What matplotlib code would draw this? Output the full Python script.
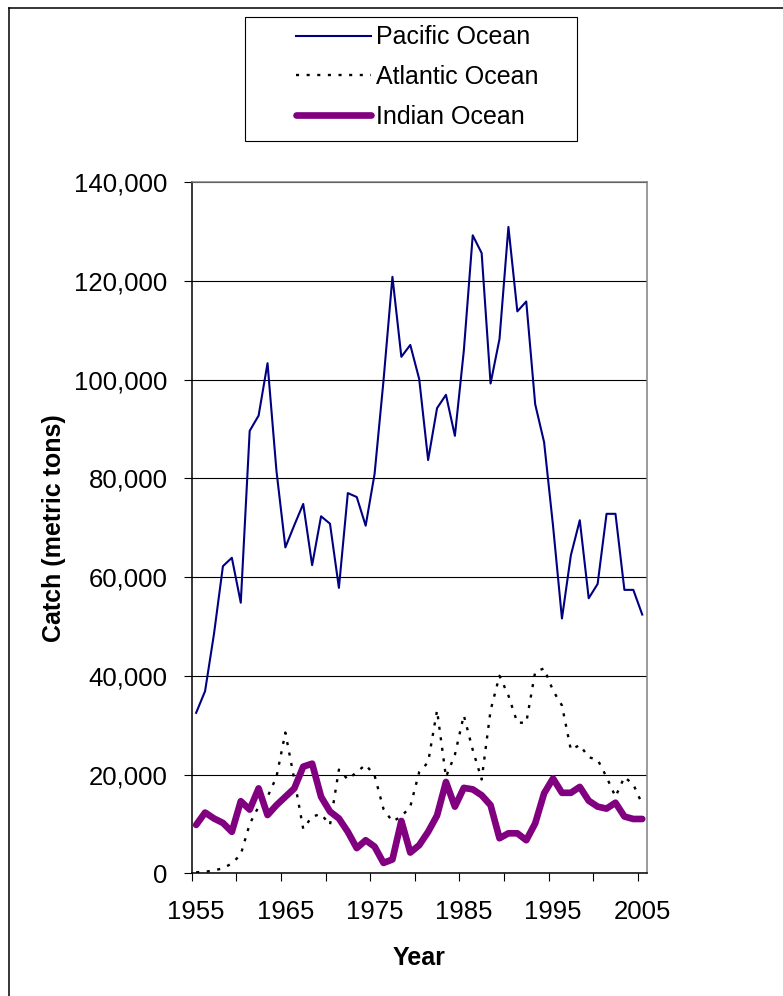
import matplotlib
matplotlib.use("Agg")
import matplotlib.pyplot as plt
from matplotlib.lines import Line2D
from matplotlib.patches import Rectangle
from matplotlib.ticker import FuncFormatter, FixedLocator

plt.rcParams['font.family'] = ['Liberation Sans', 'DejaVu Sans']

years = list(range(1955, 2006))

pacific = [32500, 36900, 48500, 62200, 63900, 54800, 89600, 92700, 103300, 81500,
           66000, 70500, 74800, 62400, 72300, 70800, 57800, 77000, 76200, 70400,
           80900, 99800, 120800, 104600, 107000, 100100, 83700, 94200, 96900, 88600,
           105800, 129200, 125600, 99200, 108200, 130900, 113800, 115800, 95000, 87300,
           70400, 51600, 64400, 71500, 55700, 58600, 72800, 72800, 57400, 57400,
           52400]

atlantic = [200, 300, 600, 1000, 2000, 3800, 10000, 13500, 15500, 19500,
            28500, 19000, 9000, 11500, 12000, 9800, 21000, 19000, 20500, 22000,
            19800, 13000, 10500, 11500, 13500, 20500, 22500, 33000, 19500, 24000,
            32000, 25000, 19000, 33000, 40000, 36000, 30500, 30500, 40800, 41500,
            37000, 34000, 25000, 26000, 23500, 23000, 19500, 15500, 19500, 18000,
            14000]

indian = [9800, 12300, 11100, 10200, 8400, 14600, 12900, 17200, 11800, 13800,
          15500, 17200, 21600, 22200, 15500, 12500, 11100, 8400, 5100, 6700,
          5400, 2100, 2800, 10600, 4200, 5700, 8400, 11700, 18500, 13500,
          17300, 17000, 15800, 13800, 7100, 8100, 8100, 6700, 10100, 16200,
          19200, 16300, 16300, 17500, 14700, 13500, 13100, 14300, 11500, 11000,
          11000]

series_names = ["Pacific Ocean", "Atlantic Ocean", "Indian Ocean"]
year_labels = [1955, 1965, 1975, 1985, 1995, 2005]

W, H = 783, 996
fig = plt.figure(figsize=(W / 100, H / 100), dpi=100)
ax = fig.add_axes([191.7 / W, 1 - 873.3 / H, (646.7 - 191.7) / W, (873.3 - 182) / H])

l1, = ax.plot(years, pacific, color="#000080", lw=1.5, solid_joinstyle="round")
l2, = ax.plot(years, atlantic, color="black", lw=1.7, linestyle=(0, (1.3, 3.2)),
              dash_capstyle="butt")
l3, = ax.plot(years, indian, color="#800080", lw=4.8, solid_joinstyle="round",
              solid_capstyle="round")

ax.set_xlim(1954.5, 2005.5)
ax.set_ylim(0, 140000)

# y axis
ax.yaxis.set_major_locator(FixedLocator(range(0, 140001, 20000)))
ax.yaxis.set_major_formatter(FuncFormatter(lambda v, p: f"{int(v):,}"))
ax.tick_params(axis="y", which="major", direction="out", length=6, width=0.8,
               pad=11.5, labelsize=18.5, colors="black")
ax.grid(axis="y", color="black", lw=0.8)
ax.set_axisbelow(True)

# x axis: labels centred on categories, tick marks between categories
ax.xaxis.set_major_locator(FixedLocator(year_labels))
ax.xaxis.set_minor_locator(FixedLocator([1954.5 + 5 * k for k in range(11)]))
ax.tick_params(axis="x", which="major", length=0, pad=19.5, labelsize=18.5)
ax.tick_params(axis="x", which="minor", direction="out", length=6, width=0.8)

for side in ("left", "bottom"):
    ax.spines[side].set_color("black")
    ax.spines[side].set_linewidth(1.1)
for side in ("right", "top"):
    ax.spines[side].set_color("#808080")
    ax.spines[side].set_linewidth(1.1)

ax.set_ylabel("Catch (metric tons)", fontsize=18, fontweight="bold", labelpad=6)
ax.set_xlabel("Year", fontsize=18, fontweight="bold", labelpad=15.5)

# legend with its own box
leg = fig.legend([l1, l2, l3], series_names, loc="upper left",
                 bbox_to_anchor=(283 / W, 1 - 13 / H), frameon=False,
                 borderpad=0, handlelength=3.0, handletextpad=0.22,
                 labelspacing=0.62, fontsize=18)
fig.add_artist(Rectangle((245 / W, 1 - 141 / H), (577 - 245) / W, (141 - 17) / H,
                         transform=fig.transFigure, fill=False,
                         edgecolor="black", lw=0.8))

# outer frame
fig.add_artist(Line2D([9 / W, 9 / W], [0, 1 - 8 / H], transform=fig.transFigure,
                      color="black", lw=1.1))
fig.add_artist(Line2D([9 / W, 1], [1 - 8 / H, 1 - 8 / H], transform=fig.transFigure,
                      color="black", lw=1.1))

fig.savefig("out.png", dpi=100)
